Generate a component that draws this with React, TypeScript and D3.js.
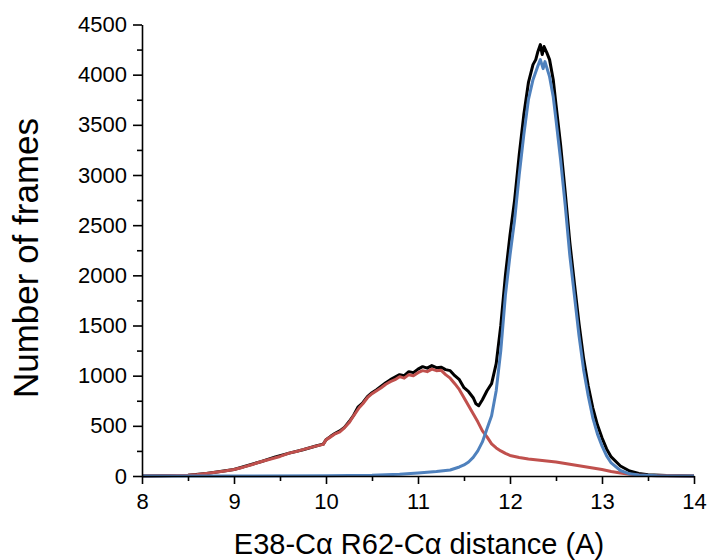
import React, { useEffect, useRef } from 'react';
import * as d3 from 'd3';

// distance (A) -> number of frames
const totalX = [8.0, 8.5, 8.7, 9.0, 9.15, 9.3, 9.45, 9.6, 9.75, 9.9, 9.97, 10.0, 10.05, 10.1, 10.15, 10.2, 10.25, 10.3, 10.35, 10.4, 10.45, 10.5, 10.55, 10.6, 10.65, 10.7, 10.75, 10.8, 10.85, 10.9, 10.95, 11.0, 11.05, 11.1, 11.15, 11.2, 11.25, 11.3, 11.35, 11.4, 11.45, 11.5, 11.55, 11.6, 11.63, 11.66, 11.7, 11.75, 11.8, 11.85, 11.9, 11.95, 12.0, 12.05, 12.1, 12.15, 12.2, 12.25, 12.28, 12.3, 12.33, 12.35, 12.37, 12.4, 12.43, 12.47, 12.5, 12.55, 12.6, 12.65, 12.7, 12.75, 12.8, 12.85, 12.9, 12.95, 13.0, 13.05, 13.1, 13.2, 13.3, 13.4, 13.5, 13.7, 14.0];
const totalY = [0, 8, 25, 65, 105, 145, 190, 228, 262, 302, 318, 362, 395, 425, 450, 485, 540, 605, 690, 730, 790, 830, 860, 895, 930, 960, 985, 1010, 1000, 1040, 1030, 1065, 1090, 1075, 1100, 1080, 1085, 1060, 1050, 1000, 960, 880, 840, 780, 720, 700, 760, 850, 920, 1120, 1500, 2000, 2400, 2750, 3200, 3600, 3920, 4100, 4150, 4220, 4300, 4200, 4280, 4220, 4150, 3950, 3700, 3300, 2830, 2330, 1920, 1520, 1170, 900, 680, 510, 380, 270, 190, 100, 50, 25, 12, 4, 0];

const redX = [8.0, 8.2, 8.4, 8.5, 8.6, 8.7, 8.8, 8.9, 9.0, 9.1, 9.2, 9.3, 9.4, 9.5, 9.6, 9.7, 9.8, 9.9, 9.97, 10.0, 10.05, 10.1, 10.15, 10.2, 10.25, 10.3, 10.36, 10.4, 10.45, 10.5, 10.55, 10.6, 10.65, 10.7, 10.75, 10.8, 10.85, 10.9, 10.95, 11.0, 11.05, 11.1, 11.15, 11.2, 11.25, 11.3, 11.35, 11.4, 11.45, 11.5, 11.55, 11.6, 11.65, 11.7, 11.75, 11.8, 11.85, 11.9, 11.95, 12.0, 12.1, 12.2, 12.3, 12.4, 12.5, 12.6, 12.7, 12.8, 12.9, 13.0, 13.1, 13.2, 13.3, 13.4, 13.5, 13.7, 14.0];
const redY = [0, 2, 5, 8, 14, 25, 38, 50, 65, 88, 115, 145, 170, 195, 228, 250, 275, 300, 315, 360, 390, 420, 440, 480, 530, 600, 680, 720, 780, 820, 850, 880, 915, 940, 960, 990, 975, 1010, 1000, 1030, 1050, 1040, 1065, 1050, 1055, 1010, 975, 920, 860, 780, 700, 620, 540, 450, 390, 320, 280, 250, 225, 205, 185, 170, 160, 150, 140, 125, 110, 95, 80, 65, 45, 30, 18, 10, 5, 2, 0];

const blueX = [8.0, 9.0, 10.0, 10.5, 10.8, 11.0, 11.2, 11.35, 11.45, 11.5, 11.55, 11.6, 11.65, 11.7, 11.75, 11.8, 11.85, 11.9, 11.95, 12.0, 12.05, 12.1, 12.15, 12.2, 12.25, 12.3, 12.33, 12.36, 12.38, 12.4, 12.43, 12.47, 12.5, 12.55, 12.6, 12.65, 12.7, 12.75, 12.8, 12.85, 12.9, 12.95, 13.0, 13.05, 13.1, 13.2, 13.3, 13.4, 13.6, 14.0];
const blueY = [0, 0, 2, 8, 18, 30, 45, 60, 90, 110, 140, 185, 250, 340, 470, 600, 850, 1250, 1800, 2200, 2550, 3000, 3400, 3750, 3950, 4080, 4150, 4060, 4130, 4070, 3980, 3780, 3550, 3150, 2700, 2200, 1800, 1400, 1060, 800, 580, 420, 300, 200, 130, 55, 22, 10, 3, 0];

const yTicks = [0, 500, 1000, 1500, 2000, 2500, 3000, 3500, 4000, 4500];
const yMinor = [250, 750, 1250, 1750, 2250, 2750, 3250, 3750, 4250];
const xTicks = [8, 9, 10, 11, 12, 13, 14];
const xMinor = [8.5, 9.5, 10.5, 11.5, 12.5, 13.5];

const series = [
  { xs: totalX, ys: totalY, color: '#000000' },
  { xs: redX, ys: redY, color: '#c0504d' },
  { xs: blueX, ys: blueY, color: '#4f81bd' },
];

const font = '"Liberation Sans", Arial, sans-serif';

const App = () => {
  const ref = useRef<SVGSVGElement>(null);

  useEffect(() => {
    const width = 709;
    const height = 560;
    const svg = d3.select(ref.current).attr('width', width).attr('height', height);
    svg.selectAll('*').remove();

    const x = d3.scaleLinear().domain([8, 14]).range([142, 694]);
    const y = d3.scaleLinear().domain([0, 4500]).range([476, 24.5]);

    // curves
    const line = d3.line<[number, number]>()
      .x(d => x(d[0]))
      .y(d => y(d[1]));

    series.forEach(s => {
      const pts = s.xs.map((v, i) => [v, s.ys[i]] as [number, number]);
      svg.append('path')
        .attr('d', line(pts))
        .attr('fill', 'none')
        .attr('stroke', s.color)
        .attr('stroke-width', 3)
        .attr('stroke-linejoin', 'round');
    });

    // y axis
    const gy = svg.append('g').attr('transform', 'translate(142,0)');
    gy.call(d3.axisLeft(y).tickValues(yTicks).tickSize(9).tickSizeOuter(0).tickPadding(6).tickFormat(d3.format('d')));
    gy.append('g').call(d3.axisLeft(y).tickValues(yMinor).tickSize(5).tickFormat(() => ''))
      .select('.domain').remove();

    // x axis
    const gx = svg.append('g').attr('transform', 'translate(0,476)');
    gx.call(d3.axisBottom(x).tickValues(xTicks).tickSize(8).tickSizeOuter(0).tickPadding(9).tickFormat(d3.format('d')));
    gx.append('g').call(d3.axisBottom(x).tickValues(xMinor).tickSize(5).tickFormat(() => ''))
      .select('.domain').remove();

    svg.selectAll('.domain, .tick line').attr('stroke', '#000').attr('stroke-width', 1.6);
    svg.selectAll('.tick text')
      .attr('fill', '#000')
      .style('font-family', font)
      .style('font-size', '22px');

    // axis titles
    svg.append('text')
      .attr('transform', 'translate(38,258) rotate(-90)')
      .attr('text-anchor', 'middle')
      .style('font-family', font)
      .style('font-size', '35px')
      .attr('fill', '#000')
      .text('Number of frames');

    svg.append('text')
      .attr('x', 419)
      .attr('y', 554)
      .attr('text-anchor', 'middle')
      .style('font-family', font)
      .style('font-size', '29px')
      .attr('fill', '#000')
      .text('E38-Cα R62-Cα distance (A)');
  }, []);

  return <svg ref={ref} style={{ position: 'absolute', left: 0, top: 0, background: '#fff' }} />;
};

export default App;
